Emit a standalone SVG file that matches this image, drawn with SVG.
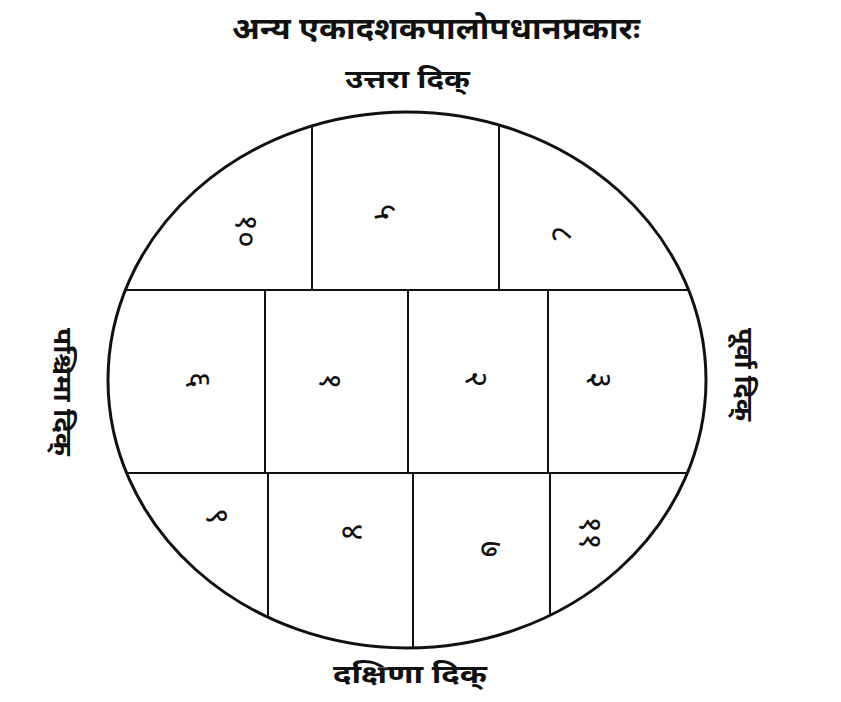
<svg xmlns="http://www.w3.org/2000/svg" width="841" height="702" viewBox="0 0 841 702">
<style>
.dev{font-family:"Noto Sans Devanagari","Noto Serif Devanagari","Lohit Devanagari","Mangal","Noto Sans",sans-serif;fill:#111}
.title{font-size:31px;font-weight:bold}
.dir{font-size:25px;font-weight:bold}
.num{font-size:32px;text-anchor:middle;dominant-baseline:central}
.ln{stroke:#111;stroke-width:2;fill:none}
.rim{stroke:#111;stroke-width:3;fill:none}
</style>
<rect width="841" height="702" fill="#fff"/>
<text class="dev title" x="232" y="39" textLength="408" lengthAdjust="spacingAndGlyphs">अन्य एकादशकपालोपधानप्रकारः</text>
<text class="dev dir" x="345" y="88" textLength="125" lengthAdjust="spacingAndGlyphs">उत्तरा दिक्</text>
<text class="dev dir" x="333" y="683" textLength="154" lengthAdjust="spacingAndGlyphs">दक्षिणा दिक्</text>
<text class="dev dir" transform="translate(54,328) rotate(90)" textLength="128" lengthAdjust="spacingAndGlyphs">पश्चिमा दिक्</text>
<text class="dev dir" transform="translate(735,328) rotate(90)" textLength="93" lengthAdjust="spacingAndGlyphs">पूर्वा दिक्</text>
<g id="connectors">
<ellipse class="rim" cx="407" cy="380" rx="299" ry="268"/>
<line class="ln" x1="126" y1="290" x2="688" y2="290"/>
<line class="ln" x1="128" y1="473" x2="688" y2="473"/>
<line class="ln" x1="312" y1="126" x2="312" y2="290"/>
<line class="ln" x1="499" y1="125" x2="499" y2="290"/>
<line class="ln" x1="265" y1="290" x2="265" y2="473"/>
<line class="ln" x1="408" y1="290" x2="408" y2="473"/>
<line class="ln" x1="548" y1="290" x2="548" y2="473"/>
<line class="ln" x1="268" y1="473" x2="268" y2="616"/>
<line class="ln" x1="413" y1="473" x2="413" y2="647"/>
<line class="ln" x1="550" y1="473" x2="550" y2="615"/>
</g>
<g id="cell10"><text class="dev num" transform="translate(244,231) rotate(90)">१०</text></g>
<g id="cell5"><text class="dev num" transform="translate(383,212) rotate(90)">५</text></g>
<g id="cell8"><text class="dev num" transform="translate(559,234) rotate(90)">८</text></g>
<g id="cell6"><text class="dev num" transform="translate(197,380) rotate(90)">६</text></g>
<g id="cell1"><text class="dev num" transform="translate(328,381) rotate(90)">१</text></g>
<g id="cell2"><text class="dev num" transform="translate(474,379) rotate(90)">२</text></g>
<g id="cell3"><text class="dev num" transform="translate(598,380) rotate(90)">३</text></g>
<g id="cell9"><text class="dev num" transform="translate(215,516) rotate(90)">९</text></g>
<g id="cell4"><text class="dev num" transform="translate(350,532) rotate(90)">४</text></g>
<g id="cell7"><text class="dev num" transform="translate(488,549) rotate(90)">७</text></g>
<g id="cell11"><text class="dev num" transform="translate(588,533) rotate(90)">११</text></g>
</svg>
